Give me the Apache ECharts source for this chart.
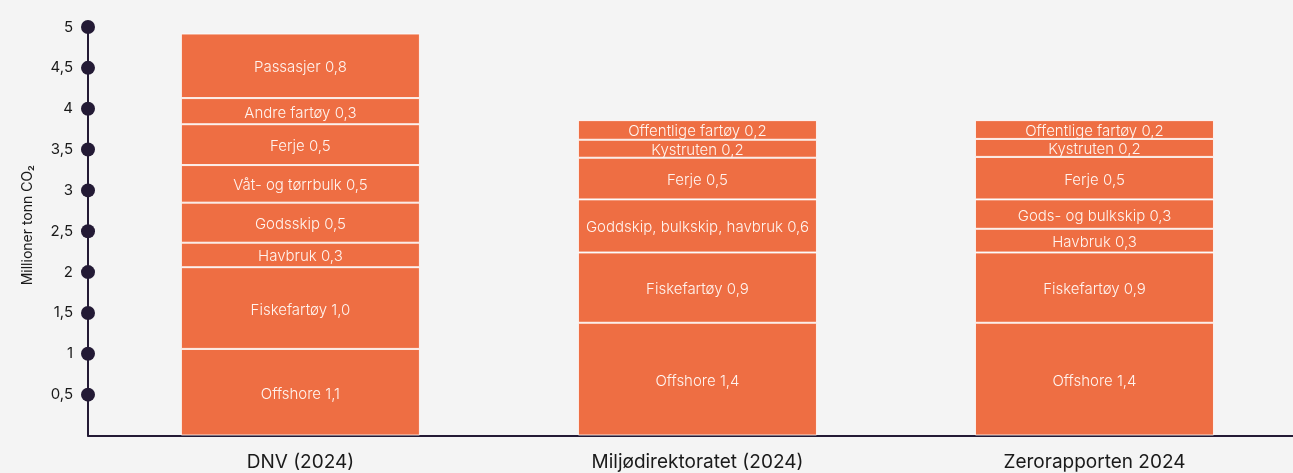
<!DOCTYPE html>
<html>
<head>
<meta charset="utf-8">
<script src="https://cdn.jsdelivr.net/npm/echarts@6/dist/echarts.min.js"></script>
<style>
    html, body { margin: 0; padding: 0; background: #f4f4f4; }
    #chart { width: 1293px; height: 473px; }
</style>
</head>
<body>
<div id="chart"></div>
<script>
// kilder (x-akse)
var sources = ['DNV (2024)', 'Miljødirektoratet (2024)', 'Zerorapporten 2024'];

// DNV
var dnvNames = ['Offshore', 'Fiskefartøy', 'Havbruk', 'Godsskip', 'Våt- og tørrbulk', 'Ferje', 'Andre fartøy', 'Passasjer'];
var dnvShown = ['1,1', '1,0', '0,3', '0,5', '0,5', '0,5', '0,3', '0,8'];
var dnvValues = [1.06, 1.00, 0.30, 0.49, 0.46, 0.50, 0.32, 0.79];

// Miljødirektoratet
var miljoNames = ['Offshore', 'Fiskefartøy', 'Goddskip, bulkskip, havbruk', 'Ferje', 'Kystruten', 'Offentlige fartøy'];
var miljoShown = ['1,4', '0,9', '0,6', '0,5', '0,2', '0,2'];
var miljoValues = [1.38, 0.86, 0.65, 0.51, 0.22, 0.24];

// Zerorapporten
var zeroNames = ['Offshore', 'Fiskefartøy', 'Havbruk', 'Gods- og bulkskip', 'Ferje', 'Kystruten', 'Offentlige fartøy'];
var zeroShown = ['1,4', '0,9', '0,3', '0,3', '0,5', '0,2', '0,2'];
var zeroValues = [1.38, 0.86, 0.29, 0.36, 0.52, 0.22, 0.23];

// y-akse
var yTicks = [0.5, 1, 1.5, 2, 2.5, 3, 3.5, 4, 4.5, 5];

var barNames = [dnvNames, miljoNames, zeroNames];
var barShown = [dnvShown, miljoShown, zeroShown];
var barValues = [dnvValues, miljoValues, zeroValues];

var X_MIN = 0.465;
var X_MAX = 3.5;

var oChart = echarts.init(document.getElementById('chart'));

// en serie per lag i stabelen (verdi først, så posisjon -> y blir stablet)
var layers = Math.max(dnvValues.length, miljoValues.length, zeroValues.length);
var series = [];
for (var i = 0; i < layers; i++) {
    var data = [];
    for (var b = 0; b < 3; b++) {
        if (i < barValues[b].length) {
            data.push({
                value: [barValues[b][i], b + 1],
                label: { formatter: barNames[b][i] + ' ' + barShown[b][i] }
            });
        } else {
            data.push({ value: [null, b + 1] });
        }
    }
    series.push({
        type: 'bar',
        stack: 'total',
        barWidth: 239,
        encode: { x: 1, y: 0 },
        itemStyle: {
            color: '#ee6e43',
            borderColor: 'rgba(255,255,255,0.8)',
            borderWidth: 1
        },
        label: {
            show: true,
            position: 'inside',
            offset: [0, 2],
            color: '#fff4ef',
            fontFamily: 'Inter',
            fontWeight: 300,
            fontSize: 15
        },
        data: data
    });
}

// prikker på y-aksen
series.push({
    type: 'scatter',
    symbolSize: 14,
    clip: false,
    z: 10,
    itemStyle: { color: '#231a35', opacity: 1 },
    data: yTicks.map(function (v) { return [X_MIN, v]; })
});

var option = {
    backgroundColor: '#f4f4f4',
    animation: false,
    grid: {
        left: 88,
        right: 0,
        top: 27,
        bottom: 37.5
    },
    xAxis: {
        type: 'value',
        min: X_MIN,
        max: X_MAX,
        splitLine: { show: false },
        axisLine: { show: true, lineStyle: { color: '#231a35', width: 2 } },
        axisTick: { show: false },
        axisLabel: {
            customValues: [1, 2, 3],
            formatter: function (v) { return sources[Math.round(v) - 1]; },
            color: '#1a1a1a',
            fontFamily: 'Inter',
            fontSize: 19,
            margin: 17
        }
    },
    yAxis: {
        type: 'value',
        min: 0,
        max: 5,
        interval: 0.5,
        name: 'Millioner tonn CO₂',
        nameLocation: 'middle',
        nameGap: 53,
        nameTextStyle: {
            color: '#1a1a1a',
            fontFamily: 'Inter',
            fontSize: 14,
            padding: [0, 0, 0, 12]
        },
        splitLine: { show: false },
        axisLine: { show: true, lineStyle: { color: '#231a35', width: 2 } },
        axisTick: { show: false },
        axisLabel: {
            showMinLabel: false,
            color: '#1a1a1a',
            fontFamily: 'Inter',
            fontSize: 15,
            margin: 15,
            formatter: function (v) { return String(v).replace('.', ','); }
        }
    },
    series: series
};

oChart.setOption(option);
</script>
</body>
</html>
